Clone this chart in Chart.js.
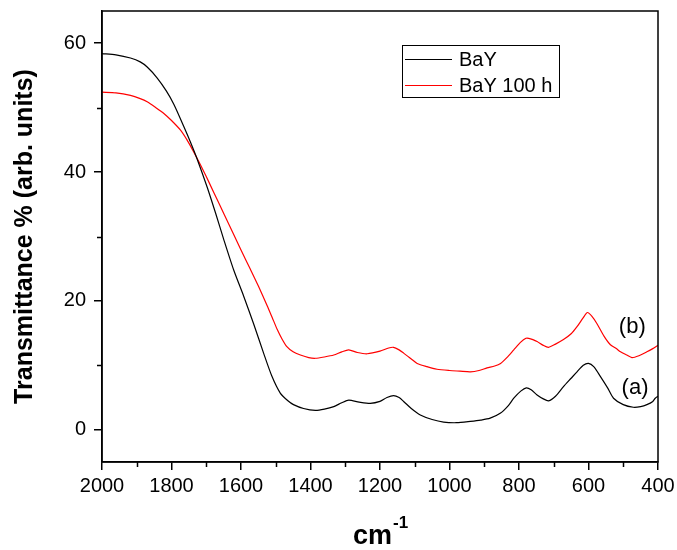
<!DOCTYPE html>
<html>
<head>
<meta charset="utf-8">
<script src="https://cdn.jsdelivr.net/npm/chart.js@4/dist/chart.umd.min.js"></script>
<style>
html,body{margin:0;padding:0;background:#fff;}
#wrap{width:677px;height:550px;position:relative;}
</style>
</head>
<body>
<div id="wrap"><canvas id="c" width="677" height="550"></canvas></div>
<script>
// ---- data ----
const seriesNames = ["BaY", "BaY 100 h"];
const seriesColors = ["#000000", "#ff0000"];
const curveLabels = ["(a)", "(b)"];
const xTickValues = [2000, 1800, 1600, 1400, 1200, 1000, 800, 600, 400];
const yTickValues = [0, 20, 40, 60];
const xMinorTicks = [1900, 1700, 1500, 1300, 1100, 900, 700, 500];
const yMinorTicks = [10, 30, 50];

const bayWavenumber = [2000,1960,1918,1890,1870,1841,1815,1793,1764,1745,1726,1697,1673,1650,1621,1592,1564,1535,1511,1487,1465,1449,1420,1386,1360,1333,1310,1290,1260,1228,1200,1180,1161,1145,1132,1110,1084,1050,1017,980,940,910,883,853,830,815,795,779,765,748,730,715,695,672,650,633,615,600,585,566,545,528,500,471,450,432,415,408,400];
const bayValues = [58.4,58.2,57.7,57.1,56.3,54.6,52.6,50.5,47.0,44.6,42.0,37.6,33.6,29.6,24.8,20.7,16.5,11.9,8.3,5.7,4.5,3.9,3.3,3.0,3.2,3.6,4.2,4.6,4.3,4.1,4.4,5.0,5.3,5.0,4.4,3.3,2.3,1.6,1.2,1.1,1.3,1.5,1.8,2.6,3.8,4.9,6.0,6.5,6.2,5.4,4.8,4.5,5.2,6.7,8.0,9.0,10.0,10.3,9.8,8.3,6.5,4.9,3.9,3.5,3.6,3.9,4.4,4.9,5.2];

const bay100Wavenumber = [2000,1960,1918,1890,1870,1845,1822,1800,1774,1750,1726,1700,1678,1649,1621,1600,1573,1550,1525,1510,1496,1482,1468,1450,1429,1405,1386,1360,1333,1310,1290,1265,1237,1200,1175,1161,1145,1132,1110,1093,1065,1036,1000,970,940,915,892,870,853,835,815,795,780,772,760,748,730,715,695,672,650,633,615,603,590,576,555,537,520,508,490,475,455,432,415,403,400];
const bay100Values = [52.4,52.3,51.9,51.4,50.9,50.0,49.1,48.0,46.5,44.5,42.1,39.3,36.8,33.5,30.3,27.9,24.9,22.3,19.3,17.4,15.6,14.1,12.9,12.1,11.6,11.2,11.1,11.3,11.6,12.1,12.4,12.0,11.8,12.2,12.7,12.8,12.4,11.9,11.0,10.3,9.8,9.4,9.2,9.1,9.0,9.2,9.6,9.9,10.3,11.2,12.4,13.6,14.2,14.2,14.0,13.7,13.1,12.8,13.3,14.0,14.9,16.0,17.4,18.2,17.6,16.5,14.5,13.2,12.6,12.1,11.6,11.2,11.5,12.1,12.6,13.0,13.1];

// label anchor positions (data coords)
const curveLabelX = [466, 474];
const curveLabelY = [6.5, 16.0];

const FONT = "'Liberation Sans', Arial, Helvetica, sans-serif";

function toPts(xs, ys){ return xs.map((x,i)=>({x:x, y:ys[i]})); }

const decor = {
  id: 'decor',
  afterDraw(chart){
    const ctx = chart.ctx;
    const ca = chart.chartArea;
    const xs = chart.scales.x, ys = chart.scales.y;
    ctx.save();
    // frame
    ctx.strokeStyle = '#000';
    ctx.lineWidth = 1.5;
    ctx.strokeRect(ca.left, ca.top, ca.right - ca.left, ca.bottom - ca.top);
    // minor ticks
    ctx.lineWidth = 1.5;
    ctx.beginPath();
    xMinorTicks.forEach(v=>{
      const px = Math.round(xs.getPixelForValue(v)) + 0.5;
      ctx.moveTo(px, ca.bottom); ctx.lineTo(px, ca.bottom + 5);
    });
    yMinorTicks.forEach(v=>{
      const py = Math.round(ys.getPixelForValue(v)) + 0.5;
      ctx.moveTo(ca.left, py); ctx.lineTo(ca.left - 5, py);
    });
    ctx.stroke();

    // legend
    const lx = 402, ly = 45, lw = 157, lh = 52;
    ctx.lineWidth = 1;
    ctx.strokeStyle = '#000';
    ctx.strokeRect(lx + 0.5, ly + 0.5, lw, lh);
    ctx.font = '20px ' + FONT;
    ctx.textBaseline = 'middle';
    ctx.textAlign = 'left';
    seriesNames.forEach((name, i)=>{
      const yy = ly + 14 + i * 26;
      ctx.strokeStyle = seriesColors[i];
      ctx.lineWidth = 1;
      ctx.beginPath();
      ctx.moveTo(405, yy + 0.5); ctx.lineTo(452, yy + 0.5);
      ctx.stroke();
      ctx.fillStyle = '#000';
      ctx.fillText(name, 459, yy + 1);
    });

    // curve labels
    ctx.font = '22px ' + FONT;
    ctx.textAlign = 'center';
    ctx.fillStyle = '#000';
    curveLabels.forEach((t, i)=>{
      ctx.fillText(t, xs.getPixelForValue(curveLabelX[i]), ys.getPixelForValue(curveLabelY[i]));
    });

    // y title
    ctx.save();
    ctx.translate(32, (ca.top + ca.bottom) / 2);
    ctx.rotate(-Math.PI / 2);
    ctx.font = 'bold 25px ' + FONT;
    ctx.textAlign = 'center';
    ctx.textBaseline = 'alphabetic';
    ctx.fillText('Transmittance % (arb. units)', 0, 0);
    ctx.restore();

    // x title cm^-1
    ctx.font = 'bold 27px ' + FONT;
    ctx.textAlign = 'left';
    ctx.textBaseline = 'alphabetic';
    const cmW = ctx.measureText('cm').width;
    ctx.fillText('cm', 353, 544);
    ctx.font = 'bold 17px ' + FONT;
    ctx.fillText('-1', 353 + cmW + 1, 528);
    ctx.restore();
  }
};

new Chart(document.getElementById('c'), {
  type: 'scatter',
  data: {
    datasets: [
      { label: seriesNames[0], data: toPts(bayWavenumber, bayValues), showLine: true,
        borderColor: seriesColors[0], borderWidth: 1.2, pointRadius: 0, tension: 0.25, fill: false },
      { label: seriesNames[1], data: toPts(bay100Wavenumber, bay100Values), showLine: true,
        borderColor: seriesColors[1], borderWidth: 1.2, pointRadius: 0, tension: 0.25, fill: false }
    ]
  },
  options: {
    responsive: false,
    animation: false,
    devicePixelRatio: 1,
    layout: { padding: { top: 11, right: 19, left: 0, bottom: 0 } },
    plugins: { legend: { display: false }, tooltip: { enabled: false } },
    scales: {
      x: {
        type: 'linear', reverse: true, min: 400, max: 2000,
        afterBuildTicks: s => { s.ticks = xTickValues.map(v=>({value:v})); },
        afterFit: s => { s.height = 88; s.paddingLeft = 0; s.paddingRight = 0; },
        grid: { drawOnChartArea: false, drawTicks: true, tickLength: 8, color: '#000', lineWidth: 1.5 },
        border: { display: true, color: '#000', width: 1.5 },
        ticks: { color: '#000', font: { family: FONT, size: 20 }, padding: 4, maxRotation: 0, autoSkip: false,
                 callback: v => String(v) }
      },
      y: {
        type: 'linear', min: -5, max: 65,
        afterBuildTicks: s => { s.ticks = yTickValues.map(v=>({value:v})); },
        afterFit: s => { s.width = 102; s.paddingTop = 0; s.paddingBottom = 0; },
        grid: { drawOnChartArea: false, drawTicks: true, tickLength: 8, color: '#000', lineWidth: 1.5 },
        border: { display: true, color: '#000', width: 1.5 },
        ticks: { color: '#000', font: { family: FONT, size: 20 }, padding: 8, callback: v => String(v) }
      }
    }
  },
  plugins: [decor]
});
</script>
</body>
</html>
